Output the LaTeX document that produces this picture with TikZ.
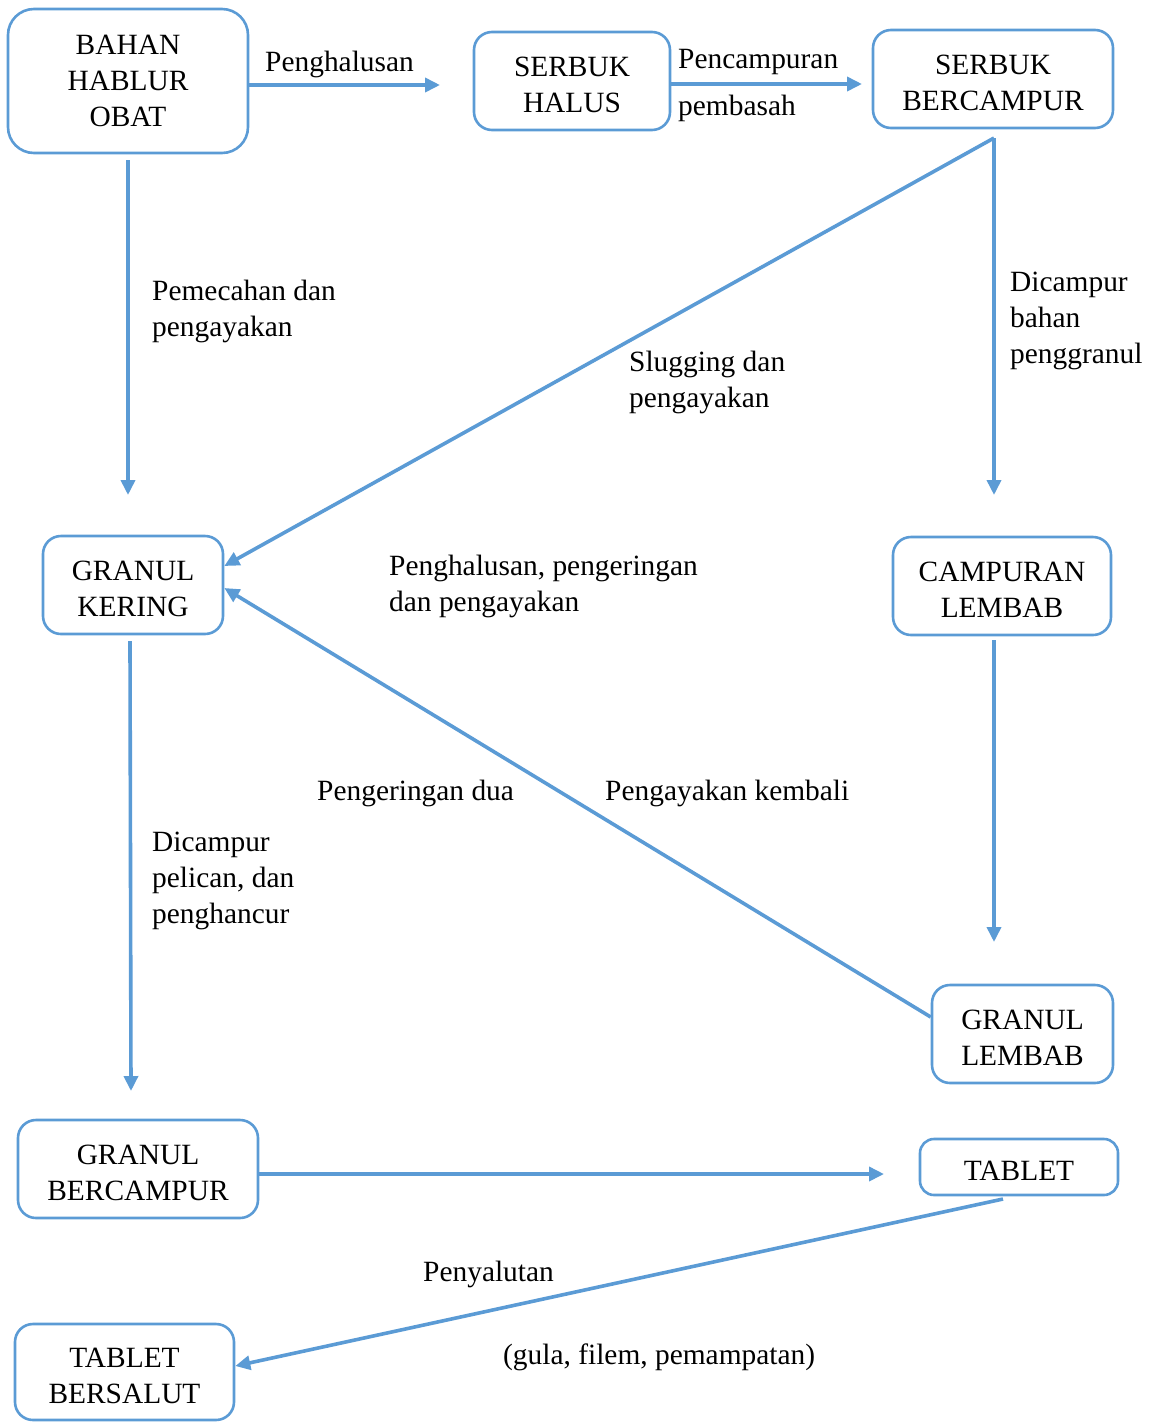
\documentclass[tikz,border=0pt]{standalone}
\usepackage{fontspec}
\setmainfont{Liberation Serif}
\usetikzlibrary{arrows.meta}
\definecolor{lblue}{HTML}{5B9BD5}
\newcommand{\dn}{\rule{0pt}{28pt}}
\begin{document}
\begin{tikzpicture}[x=1pt,y=-1pt,
  every node/.style={font=\fontsize{29.4}{36}\selectfont},
  box/.style={draw=lblue, line width=2.6pt, rounded corners=18pt, align=center, inner sep=0pt},
  lbl/.style={anchor=north west, align=left, inner sep=0pt},
  arr/.style={draw=lblue, line width=3.6pt, -{Triangle[length=15pt,width=14pt]}}]
\useasboundingbox (0,0) rectangle (1150,1422);
% boxes
\node[box, rounded corners=26pt, minimum width=240pt, minimum height=144pt] (bahan) at (128,81) {BAHAN\\HABLUR\\OBAT};
\node[box, minimum width=196pt, minimum height=98pt] (sh) at (572,81) {\dn SERBUK\\HALUS};
\node[box, minimum width=240pt, minimum height=98pt] (sb) at (993,79) {\dn SERBUK\\BERCAMPUR};
\node[box, minimum width=180pt, minimum height=98pt] (gk) at (133,585) {\dn GRANUL\\KERING};
\node[box, minimum width=218pt, minimum height=98pt] (cl) at (1002,586) {\dn CAMPURAN\\LEMBAB};
\node[box, minimum width=181pt, minimum height=98pt] (gl) at (1022.5,1034) {\dn GRANUL\\LEMBAB};
\node[box, minimum width=240pt, minimum height=98pt] (gb) at (138,1169) {\dn GRANUL\\BERCAMPUR};
\node[box, rounded corners=14pt, minimum width=198pt, minimum height=56pt] (tab) at (1019,1167) {\dn TABLET};
\node[box, minimum width=219pt, minimum height=96pt] (tbs) at (124.5,1372) {\dn TABLET\\BERSALUT};
% connector endpoints
\coordinate (p1s) at (bahan.east |- 0,85);
\coordinate (p1e) at (440,85);
\coordinate (p2s) at (sh.east |- 0,84);
\coordinate (p2e) at (862,84);
\coordinate (p3s) at (128,160);
\coordinate (p3e) at (128,495);
\coordinate (p4s) at (994,138);
\coordinate (p4e) at (994,495);
\coordinate (p5e) at (gk.east |- 0,566);
\coordinate (p6s) at (994,640);
\coordinate (p6e) at (994,942);
\coordinate (p7s) at (gl.west |- 0,1017);
\coordinate (p7e) at (gk.east |- 0,588);
\coordinate (p8s) at (130,641);
\coordinate (p8e) at (131,1091);
\coordinate (p9s) at (gb.east |- 0,1174);
\coordinate (p9e) at (884,1174);
\coordinate (p10s) at (1003,1199);
\coordinate (p10e) at (tbs.east |- 0,1366);
% connectors
\draw[arr] (p1s) -- (p1e);
\draw[arr] (p2s) -- (p2e);
\draw[arr] (p3s) -- (p3e);
\draw[arr] (p4s) -- (p4e);
\draw[arr] (p4s) -- (p5e);
\draw[arr] (p6s) -- (p6e);
\draw[arr] (p7s) -- (p7e);
\draw[arr] (p8s) -- (p8e);
\draw[arr] (p9s) -- (p9e);
\draw[arr] (p10s) -- (p10e);
% labels
\node[lbl] (l1) at (265,51) {Penghalusan};
\node[lbl] (l2) at (678,49) {Pencampuran};
\node[lbl] (l3) at (678,95) {pembasah};
\node[lbl] (l4) at (152,280) {Pemecahan dan\\pengayakan};
\node[lbl] (l5) at (1010,272) {Dicampur\\bahan\\penggranul};
\node[lbl] (l6) at (629,351) {Slugging dan\\pengayakan};
\node[lbl] (l7) at (389,555) {Penghalusan, pengeringan\\dan pengayakan};
\node[lbl] (l8) at (317,780) {Pengeringan dua};
\node[lbl] (l9) at (605,780) {Pengayakan kembali};
\node[lbl] (l10) at (152,832) {Dicampur\\pelican, dan\\penghancur};
\node[lbl] (l11) at (423,1261) {Penyalutan};
\node[lbl] (l12) at (503,1344) {(gula, filem, pemampatan)};
\end{tikzpicture}
\end{document}
